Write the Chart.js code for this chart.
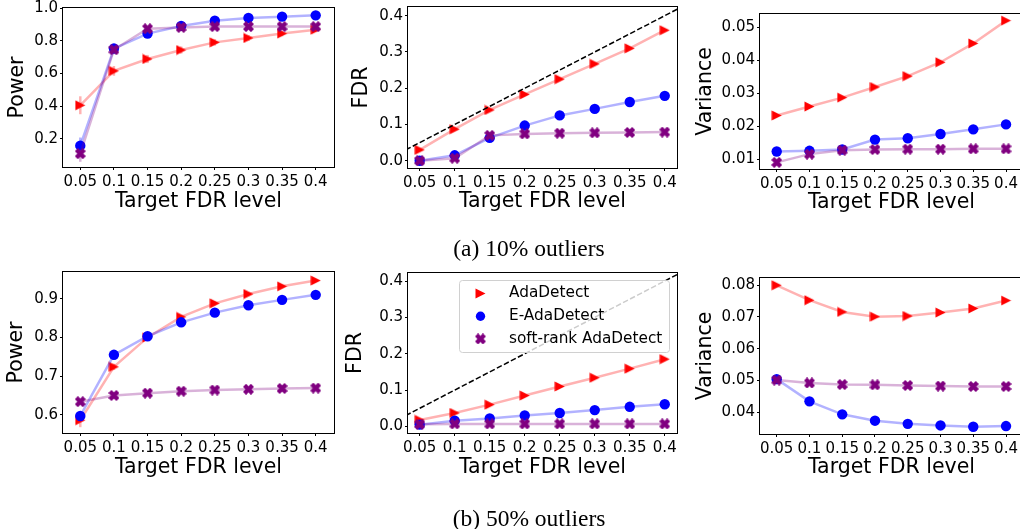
<!DOCTYPE html>
<html>
<head>
<meta charset="utf-8">
<title>AdaDetect vs E-AdaDetect vs soft-rank AdaDetect</title>
<script src="https://cdn.jsdelivr.net/npm/chart.js@4.4.1/dist/chart.umd.min.js"></script>
<style>
  body { margin: 0; background: #fff; }
  #page { position: relative; width: 1020px; height: 529px; overflow: hidden; background: #fff; }
  #page canvas { position: absolute; left: -20px; top: -20px; }
  .caption {
    position: absolute;
    font-family: 'Liberation Serif', 'Times New Roman', serif;
    font-size: 23.5px;
    color: #000;
    white-space: nowrap;
    transform: translate(-50%, -50%);
  }
</style>
</head>
<body>
<div id="page">
  <canvas id="power10" width="1060" height="569"></canvas>
  <canvas id="fdr10" width="1060" height="569"></canvas>
  <canvas id="var10" width="1060" height="569"></canvas>
  <canvas id="power50" width="1060" height="569"></canvas>
  <canvas id="fdr50" width="1060" height="569"></canvas>
  <canvas id="var50" width="1060" height="569"></canvas>
  <div class="caption" style="left:529px; top:248px">(a) 10% outliers</div>
  <div class="caption" style="left:529px; top:518px">(b) 50% outliers</div>
</div>
<script>
// x values shared by every panel
const targetLevels = [0.05, 0.1, 0.15, 0.2, 0.25, 0.3, 0.35, 0.4]
const methodNames = ['AdaDetect', 'E-AdaDetect', 'soft-rank AdaDetect']

// (a) 10% outliers
const power10Ada = [0.405, 0.616, 0.689, 0.744, 0.791, 0.818, 0.845, 0.869]
const power10EAda = [0.157, 0.753, 0.845, 0.892, 0.924, 0.941, 0.949, 0.957]
const power10Soft = [0.108, 0.746, 0.875, 0.883, 0.888, 0.888, 0.888, 0.888]
const power10AdaErr = [0.055, 0.03, 0.025, 0.022, 0.02, 0.018, 0.016, 0.015]
const power10EAdaErr = [0.05, 0.015, 0.012, 0.01, 0.01, 0.01, 0.01, 0.01]
const power10SoftErr = [0.05, 0.012, 0.01, 0.01, 0.01, 0.01, 0.01, 0.01]

const fdr10Ada = [0.030, 0.087, 0.140, 0.183, 0.225, 0.267, 0.310, 0.360]
const fdr10EAda = [0.000, 0.015, 0.063, 0.097, 0.125, 0.143, 0.162, 0.179]
const fdr10Soft = [0.000, 0.007, 0.070, 0.074, 0.076, 0.077, 0.078, 0.079]

const var10Ada = [0.0233, 0.0260, 0.0287, 0.0319, 0.0352, 0.0394, 0.0451, 0.0520]
const var10EAda = [0.0124, 0.0126, 0.0130, 0.0160, 0.0164, 0.0177, 0.0191, 0.0206]
const var10Soft = [0.0091, 0.0116, 0.0128, 0.0130, 0.0131, 0.0131, 0.0132, 0.0132]

// (b) 50% outliers
const power50Ada = [0.586, 0.724, 0.800, 0.853, 0.888, 0.912, 0.932, 0.947]
const power50EAda = [0.597, 0.755, 0.803, 0.839, 0.864, 0.883, 0.897, 0.910]
const power50Soft = [0.634, 0.650, 0.656, 0.661, 0.664, 0.666, 0.668, 0.669]
const power50AdaErr = [0.018, 0.008, 0.006, 0.005, 0.005, 0.004, 0.004, 0.004]

const fdr50Ada = [0.018, 0.037, 0.060, 0.085, 0.110, 0.134, 0.159, 0.185]
const fdr50EAda = [0.005, 0.016, 0.022, 0.030, 0.037, 0.045, 0.054, 0.061]
const fdr50Soft = [0.006, 0.007, 0.007, 0.007, 0.007, 0.007, 0.007, 0.007]

const var50Ada = [0.0800, 0.0753, 0.0716, 0.0701, 0.0703, 0.0714, 0.0727, 0.0752]
const var50EAda = [0.0504, 0.0434, 0.0393, 0.0373, 0.0363, 0.0358, 0.0354, 0.0356]
const var50Soft = [0.0501, 0.0492, 0.0487, 0.0486, 0.0484, 0.0482, 0.0481, 0.0481]

// y = x reference on the FDR panels
const diagonal = [0, 0.5]

// tick labels
const xTicks = targetLevels
const yTicksPower10 = [0.2, 0.4, 0.6, 0.8, 1.0]
const yTicksPower50 = [0.6, 0.7, 0.8, 0.9]
const yTicksFdr = [0.0, 0.1, 0.2, 0.3, 0.4]
const yTicksVar10 = [0.01, 0.02, 0.03, 0.04, 0.05]
const yTicksVar50 = [0.04, 0.05, 0.06, 0.07, 0.08]

// canvases are bigger than the page and shifted by OFF so nothing gets squeezed
const OFF = 20
const CANVAS_W = 1060
const CANVAS_H = 569
const TITLE_SIZE = 20.5
const TITLE_LH = TITLE_SIZE * 1.2
const FONT = "'DejaVu Sans', sans-serif"

// marker images, close to matplotlib's '>' and 'X'
function makeMarker(kind, color) {
    const c = document.createElement('canvas')
    c.width = 11
    c.height = 11
    const ctx = c.getContext('2d')
    ctx.fillStyle = color
    ctx.strokeStyle = color
    if (kind === 'triRight') {
        ctx.beginPath()
        ctx.moveTo(0.5, 0.5)
        ctx.lineTo(10.5, 5.5)
        ctx.lineTo(0.5, 10.5)
        ctx.closePath()
        ctx.fill()
    } else {
        ctx.lineWidth = 4.4
        ctx.beginPath()
        ctx.moveTo(1.5, 1.5)
        ctx.lineTo(9.5, 9.5)
        ctx.moveTo(9.5, 1.5)
        ctx.lineTo(1.5, 9.5)
        ctx.stroke()
    }
    return c
}

const seriesStyles = [
    { pointStyle: makeMarker('triRight', '#ff0000'), color: '#ff0000', line: 'rgba(255, 0, 0, 0.3)', radius: 5, order: 3 },
    { pointStyle: 'circle', color: '#0000ff', line: 'rgba(0, 0, 255, 0.3)', radius: 5.2, order: 2 },
    { pointStyle: makeMarker('x', '#800080'), color: '#800080', line: 'rgba(128, 0, 128, 0.3)', radius: 5, order: 1 },
]

// vertical error bars, drawn under the series
const errorBarPlugin = {
    id: 'errorBars',
    beforeDatasetsDraw(chart) {
        const ctx = chart.ctx
        const yScale = chart.scales.y
        chart.data.datasets.forEach((ds, i) => {
            if (!ds.errors) return
            const meta = chart.getDatasetMeta(i)
            ctx.save()
            ctx.strokeStyle = ds.borderColor
            ctx.lineWidth = 2.5
            meta.data.forEach((pt, j) => {
                const v = ds.data[j].y
                ctx.beginPath()
                ctx.moveTo(pt.x, yScale.getPixelForValue(v - ds.errors[j]))
                ctx.lineTo(pt.x, yScale.getPixelForValue(v + ds.errors[j]))
                ctx.stroke()
            })
            ctx.restore()
        })
    }
}

// matplotlib style box around the axes
const framePlugin = {
    id: 'frame',
    afterDatasetsDraw(chart) {
        const { ctx, chartArea: a } = chart
        ctx.save()
        ctx.strokeStyle = '#000'
        ctx.lineWidth = 1
        ctx.strokeRect(Math.round(a.left) - 0.5, Math.round(a.top) - 0.5,
            Math.round(a.right - a.left) + 1, Math.round(a.bottom - a.top) + 1)
        ctx.restore()
    }
}

// legend inside the axes, upper right, semi transparent like matplotlib
const boxLegendPlugin = {
    id: 'boxLegend',
    afterDatasetsDraw(chart) {
        const { ctx, chartArea: a } = chart
        const w = 210
        const h = 72
        const x0 = a.right - 8 - w
        const y0 = a.top + 7
        ctx.save()
        ctx.beginPath()
        ctx.roundRect(x0 + 0.5, y0 + 0.5, w, h, 3)
        ctx.fillStyle = 'rgba(255, 255, 255, 0.8)'
        ctx.fill()
        ctx.strokeStyle = '#d0d0d0'
        ctx.lineWidth = 1
        ctx.stroke()
        ctx.font = '15.3px ' + FONT
        ctx.textBaseline = 'middle'
        ctx.textAlign = 'left'
        methodNames.forEach((name, i) => {
            const st = seriesStyles[i]
            const y = y0 + 13.5 + i * 22.7
            ctx.fillStyle = st.color
            Chart.helpers.drawPoint(ctx, { pointStyle: st.pointStyle, radius: st.radius * 0.9, rotation: 0, borderWidth: 0 }, x0 + 21.5, y)
            ctx.fillStyle = '#000'
            ctx.fillText(name, x0 + 50, y)
        })
        ctx.restore()
    }
}

const panels = [
    { id: 'power10', yTitle: 'Power', series: [power10Ada, power10EAda, power10Soft],
      errors: [power10AdaErr, power10EAdaErr, power10SoftErr],
      yTicks: yTicksPower10, digits: 1, xRange: [0.0243, 0.4272], yRange: [0.026, 1.002],
      area: { left: 63, top: 8, right: 334, bottom: 167 }, yTitleX: 17.5, xTitleY: 202 },
    { id: 'fdr10', yTitle: 'FDR', series: [fdr10Ada, fdr10EAda, fdr10Soft], diagonal: true,
      yTicks: yTicksFdr, digits: 1, xRange: [0.0333, 0.4175], yRange: [-0.020, 0.424],
      area: { left: 408, top: 7, right: 677, bottom: 168 }, yTitleX: 362, xTitleY: 202 },
    { id: 'var10', yTitle: 'Variance', series: [var10Ada, var10EAda, var10Soft],
      yTicks: yTicksVar10, digits: 2, xRange: [0.0245, 0.4259], yRange: [0.0071, 0.054],
      area: { left: 760, top: 14, right: 1023, bottom: 169 }, yTitleX: 706, xTitleY: 203 },
    { id: 'power50', yTitle: 'Power', series: [power50Ada, power50EAda, power50Soft],
      errors: [power50AdaErr, null, null],
      yTicks: yTicksPower50, digits: 1, xRange: [0.0243, 0.4272], yRange: [0.553, 0.969],
      area: { left: 63, top: 272, right: 334, bottom: 433 }, yTitleX: 16.7, xTitleY: 467.5 },
    { id: 'fdr50', yTitle: 'FDR', series: [fdr50Ada, fdr50EAda, fdr50Soft], diagonal: true, legend: true,
      yTicks: yTicksFdr, digits: 1, xRange: [0.0333, 0.4175], yRange: [-0.018, 0.422],
      area: { left: 408, top: 273, right: 677, bottom: 433 }, yTitleX: 355.5, xTitleY: 467.5 },
    { id: 'var50', yTitle: 'Variance', series: [var50Ada, var50EAda, var50Soft],
      yTicks: yTicksVar50, digits: 2, xRange: [0.0245, 0.4259], yRange: [0.0331, 0.0823],
      area: { left: 760, top: 278, right: 1023, bottom: 434 }, yTitleX: 706, xTitleY: 468 },
]

function buildPanel(p) {
    const yTitleLeft = p.yTitleX - TITLE_LH / 2
    const xTitleBottom = p.xTitleY + TITLE_LH / 2

    const datasets = p.series.map((values, i) => {
        const st = seriesStyles[i]
        return {
            label: methodNames[i],
            data: targetLevels.map((x, j) => ({ x: x, y: values[j] })),
            errors: p.errors ? p.errors[i] : null,
            borderColor: st.line,
            borderWidth: 2.5,
            tension: 0,
            pointStyle: st.pointStyle,
            pointRadius: st.radius,
            pointBackgroundColor: st.color,
            pointBorderWidth: 0,
            order: st.order,
        }
    })
    if (p.diagonal) {
        datasets.push({
            label: 'y = x',
            data: diagonal.map(v => ({ x: v, y: v })),
            borderColor: '#000',
            borderWidth: 1.5,
            borderDash: [5.5, 2.4],
            pointRadius: 0,
            order: 0,
        })
    }

    const tickFont = { family: FONT, size: 15 }
    const titleFont = { family: FONT, size: TITLE_SIZE, lineHeight: 1.2 }

    new Chart(document.getElementById(p.id), {
        type: 'line',
        data: { datasets: datasets },
        options: {
            responsive: false,
            animation: false,
            devicePixelRatio: 1,
            events: [],
            layout: {
                padding: {
                    left: yTitleLeft + OFF,
                    top: p.area.top + OFF,
                    right: CANVAS_W - OFF - p.area.right,
                    bottom: CANVAS_H - OFF - xTitleBottom,
                }
            },
            plugins: { legend: { display: false }, tooltip: { enabled: false } },
            scales: {
                x: {
                    type: 'linear',
                    min: p.xRange[0],
                    max: p.xRange[1],
                    afterBuildTicks: axis => { axis.ticks = xTicks.map(v => ({ value: v })) },
                    afterFit: axis => { axis.height = xTitleBottom - p.area.bottom },
                    ticks: { font: tickFont, color: '#000', padding: 3, autoSkip: false, maxRotation: 0,
                             callback: v => String(v) },
                    grid: { drawOnChartArea: false, drawTicks: true, tickLength: 3, tickColor: '#000' },
                    border: { display: false },
                    title: { display: true, text: 'Target FDR level', font: titleFont, color: '#000', padding: 0 },
                },
                y: {
                    type: 'linear',
                    min: p.yRange[0],
                    max: p.yRange[1],
                    afterBuildTicks: axis => { axis.ticks = p.yTicks.map(v => ({ value: v })) },
                    afterFit: axis => { axis.width = p.area.left - yTitleLeft },
                    ticks: { font: tickFont, color: '#000', padding: 2, callback: v => v.toFixed(p.digits) },
                    grid: { drawOnChartArea: false, drawTicks: true, tickLength: 3, tickColor: '#000' },
                    border: { display: false },
                    title: { display: true, text: p.yTitle, font: titleFont, color: '#000', padding: 0 },
                }
            }
        },
        plugins: p.legend ? [errorBarPlugin, framePlugin, boxLegendPlugin] : [errorBarPlugin, framePlugin]
    })
}

panels.forEach(p => buildPanel(p))
</script>
</body>
</html>
